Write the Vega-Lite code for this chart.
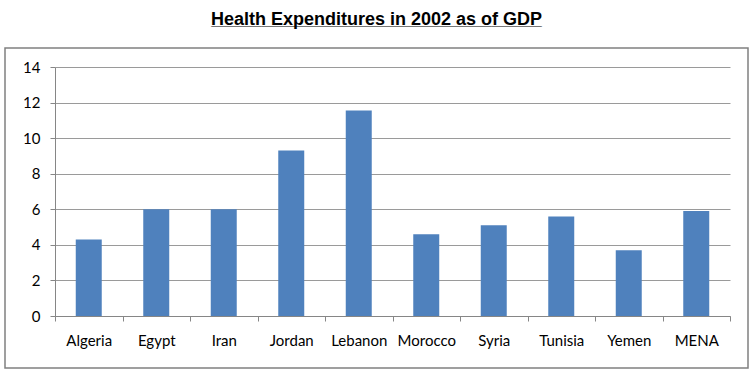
{
  "$schema": "https://vega.github.io/schema/vega-lite/v6.json",
  "width": 743,
  "height": 320,
  "autosize": {"type": "none"},
  "padding": {"left": 5, "top": 48, "right": 7, "bottom": 10},
  "background": "white",
  "title": {
    "text": "Health Expenditures in 2002 as of GDP",
    "subtitle": "_________________________________",
    "font": "Liberation Sans",
    "fontSize": 18,
    "fontWeight": "bold",
    "color": "#000000",
    "subtitleFont": "Liberation Sans",
    "subtitleFontSize": 18,
    "subtitleFontWeight": "bold",
    "subtitleColor": "#000000",
    "subtitlePadding": -18,
    "anchor": "middle",
    "offset": 19
  },
  "data": {
    "values": [
      {"country": "Algeria", "value": 4.3},
      {"country": "Egypt", "value": 6.0},
      {"country": "Iran", "value": 6.0},
      {"country": "Jordan", "value": 9.3},
      {"country": "Lebanon", "value": 11.55},
      {"country": "Morocco", "value": 4.6},
      {"country": "Syria", "value": 5.1},
      {"country": "Tunisia", "value": 5.6},
      {"country": "Yemen", "value": 3.7},
      {"country": "MENA", "value": 5.9}
    ]
  },
  "mark": {"type": "bar", "color": "#4F81BD", "width": {"band": 0.385}},
  "encoding": {
    "x": {
      "field": "country",
      "type": "nominal",
      "sort": null,
      "title": null,
      "scale": {"range": [50, 725], "paddingInner": 0, "paddingOuter": 0},
      "axis": {
        "offset": -52,
        "labelAngle": 0,
        "labelFont": "Lato",
        "labelFontSize": 15,
        "labelColor": "#000000",
        "labelPadding": 12,
        "domainColor": "#868686",
        "tickColor": "#868686",
        "tickSize": 5,
        "tickBand": "extent",
        "grid": false
      }
    },
    "y": {
      "field": "value",
      "type": "quantitative",
      "title": null,
      "scale": {"domain": [0, 14], "range": [268, 19], "nice": false},
      "axis": {
        "offset": -50,
        "values": [0, 2, 4, 6, 8, 10, 12, 14],
        "labelFont": "Lato",
        "labelFontSize": 15,
        "labelColor": "#000000",
        "labelPadding": 10,
        "domainColor": "#868686",
        "tickColor": "#868686",
        "tickSize": 5,
        "grid": true,
        "gridColor": "#9a9a9a"
      }
    },
    "y2": {"datum": 0}
  },
  "config": {
    "view": {"stroke": "#808080", "strokeWidth": 1.5}
  }
}
